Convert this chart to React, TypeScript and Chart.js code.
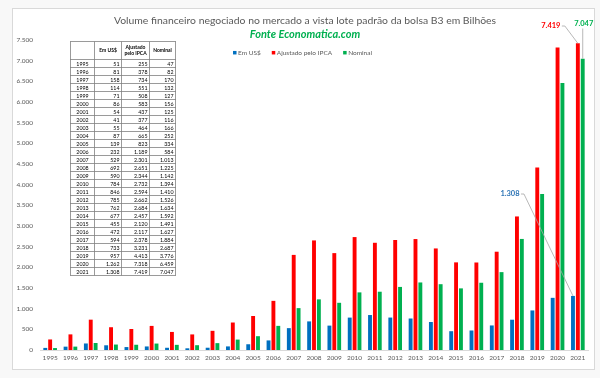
import React, { useEffect, useRef } from "react";
import { Chart, registerables } from "chart.js";

Chart.register(...registerables);

const years = ["1995","1996","1997","1998","1999","2000","2001","2002","2003","2004","2005","2006","2007","2008","2009","2010","2011","2012","2013","2014","2015","2016","2017","2018","2019","2020","2021"];
const emUsd = [51,81,158,114,71,86,54,41,55,87,139,232,529,692,590,784,846,785,762,677,455,472,594,733,957,1262,1308];
const ajustadoIpca = [255,378,734,551,508,583,437,377,464,665,823,1189,2301,2651,2344,2732,2594,2662,2684,2457,2120,2117,2378,3231,4413,7318,7419];
const nominal = [47,82,170,132,127,156,125,116,166,252,334,584,1013,1225,1142,1394,1410,1526,1634,1592,1491,1627,1884,2687,3776,6459,7047];
const seriesNames = ["Em US$", "Ajustado pelo IPCA", "Nominal"];
const seriesColors = ["#0070C0", "#FF0000", "#00B050"];
const yMax = 7500;
const yStep = 500;
const titleText = "Volume financeiro negociado no mercado a vista lote padrão da bolsa B3 em Bilhões";
const subtitleText = "Fonte Economatica.com";
const tableHeaders = ["", "Em US$", "Ajustado\npelo IPCA", "Nominal"];

const fmt = (n: number) => String(n).replace(/\B(?=(\d{3})+(?!\d))/g, ".");
const FONT = "Lato, 'Open Sans', sans-serif";

const decorPlugin = {
  id: "decor",
  beforeDraw(chart: any) {
    const { ctx, width, height } = chart;
    ctx.save();
    ctx.fillStyle = "#f8f8f8";
    ctx.fillRect(0, 0, width, height);
    ctx.fillStyle = "#ffffff";
    ctx.fillRect(12, 8, 582, 361);
    ctx.strokeStyle = "#d9d9d9";
    ctx.lineWidth = 1;
    ctx.strokeRect(12.5, 8.5, 582, 361);
    ctx.restore();
  },
  afterDraw(chart: any) {
    const { ctx } = chart;
    ctx.save();
    // Title
    ctx.textAlign = "center";
    ctx.textBaseline = "middle";
    ctx.fillStyle = "#595959";
    ctx.font = `10.4px ${FONT}`;
    ctx.fillText(titleText, 305, 21);
    ctx.fillStyle = "#00B050";
    ctx.font = `italic bold 11px ${FONT}`;
    ctx.fillText(subtitleText, 305, 34.5);

    // Legend
    ctx.font = `6.5px ${FONT}`;
    const sq = 3.5, gapT = 1.5, gapI = 11;
    const widths = seriesNames.map((s) => sq + gapT + ctx.measureText(s).width);
    const total = widths.reduce((a, b) => a + b, 0) + gapI * (seriesNames.length - 1);
    let lx = 302.5 - total / 2;
    const ly = 52.7;
    ctx.textAlign = "left";
    seriesNames.forEach((s, i) => {
      ctx.fillStyle = seriesColors[i];
      ctx.fillRect(lx, ly - sq / 2, sq, sq);
      ctx.fillStyle = "#595959";
      ctx.fillText(s, lx + sq + gapT, ly);
      lx += widths[i] + gapI;
    });

    // Table
    const cols = [70, 94, 121, 149, 175];
    const top = 41, headH = 18, rowH = 8;
    const bottom = top + headH + rowH * years.length;
    ctx.fillStyle = "#ffffff";
    ctx.fillRect(cols[0], top, cols[4] - cols[0], bottom - top);
    ctx.strokeStyle = "#808080";
    ctx.lineWidth = 0.8;
    ctx.beginPath();
    cols.forEach((c) => { ctx.moveTo(c + 0.5, top + 0.5); ctx.lineTo(c + 0.5, bottom + 0.5); });
    ctx.moveTo(cols[0], top + 0.5); ctx.lineTo(cols[4] + 1, top + 0.5);
    for (let r = 0; r <= years.length; r++) {
      const y = top + headH + r * rowH + 0.5;
      ctx.moveTo(cols[0], y); ctx.lineTo(cols[4] + 1, y);
    }
    ctx.stroke();
    ctx.fillStyle = "#000000";
    ctx.textAlign = "center";
    ctx.font = `bold 5px ${FONT}`;
    tableHeaders.forEach((h, i) => {
      const lines = h.split("\n");
      const cx = (cols[i] + cols[i + 1]) / 2 + 0.5;
      lines.forEach((ln, k) => {
        const cy = top + headH / 2 + (k - (lines.length - 1) / 2) * 6 + 0.5;
        ctx.fillText(ln, cx, cy);
      });
    });
    ctx.font = `5.3px ${FONT}`;
    years.forEach((yr, r) => {
      const cy = top + headH + r * rowH + rowH / 2 + 0.8;
      ctx.textAlign = "center";
      ctx.fillText(yr, (cols[0] + cols[1]) / 2 + 0.5, cy);
      ctx.textAlign = "right";
      ctx.fillText(fmt(emUsd[r]), cols[2] - 1.5, cy);
      ctx.fillText(fmt(ajustadoIpca[r]), cols[3] - 1.5, cy);
      ctx.fillText(fmt(nominal[r]), cols[4] - 1.5, cy);
    });

    // Data labels for last year with leader lines
    const last = years.length - 1;
    const bUsd = chart.getDatasetMeta(0).data[last];
    const bIpca = chart.getDatasetMeta(1).data[last];
    const bNom = chart.getDatasetMeta(2).data[last];
    ctx.font = `bold 7.5px ${FONT}`;
    ctx.textAlign = "center";
    ctx.strokeStyle = "#a6a6a6";
    ctx.lineWidth = 0.8;

    // Ajustado pelo IPCA
    const rx = bIpca.x - 27, ry = 26;
    ctx.fillStyle = "#FF0000";
    ctx.fillText(fmt(ajustadoIpca[last]), rx, ry);
    ctx.beginPath();
    ctx.moveTo(rx + 11, ry);
    ctx.lineTo(rx + 14, ry);
    ctx.lineTo(bIpca.x, bIpca.y);
    ctx.stroke();

    // Nominal
    const gx = bNom.x + 1, gy = 24;
    ctx.fillStyle = "#00B050";
    ctx.fillText(fmt(nominal[last]), gx, gy);
    ctx.beginPath();
    ctx.moveTo(bNom.x, gy + 4.5);
    ctx.lineTo(bNom.x, bNom.y);
    ctx.stroke();

    // Em US$
    const ux = bUsd.x - 63, uy = 194;
    ctx.fillStyle = "#2E75B6";
    ctx.fillText(fmt(emUsd[last]), ux, uy);
    ctx.beginPath();
    ctx.moveTo(ux + 11, uy);
    ctx.lineTo(ux + 14, uy);
    ctx.lineTo(bUsd.x, bUsd.y);
    ctx.stroke();

    ctx.restore();
  },
};

export default function App() {
  const ref = useRef<HTMLCanvasElement | null>(null);
  useEffect(() => {
    document.body.style.margin = "0";
    const canvas = ref.current;
    if (!canvas) return;
    const chart = new Chart(canvas, {
      type: "bar",
      data: {
        labels: years,
        datasets: [
          { label: seriesNames[0], data: emUsd, backgroundColor: seriesColors[0] },
          { label: seriesNames[1], data: ajustadoIpca, backgroundColor: seriesColors[1] },
          { label: seriesNames[2], data: nominal, backgroundColor: seriesColors[2] },
        ],
      },
      options: {
        responsive: false,
        animation: false,
        devicePixelRatio: 1,
        datasets: { bar: { categoryPercentage: 0.72, barPercentage: 0.8 } },
        layout: { padding: { left: 12, right: 12, top: 40, bottom: 8 } },
        plugins: { legend: { display: false }, title: { display: false }, tooltip: { enabled: false } },
        scales: {
          x: {
            grid: { display: false, drawTicks: false },
            border: { display: true, color: "#d9d9d9", width: 1 },
            ticks: { color: "#595959", font: { family: FONT, size: 6.5 }, padding: 4, maxRotation: 0, autoSkip: false },
            afterFit: (s: any) => { s.height = 20; },
          },
          y: {
            min: 0,
            max: yMax,
            grid: { display: false, drawTicks: false },
            border: { display: false },
            ticks: {
              stepSize: yStep,
              color: "#595959",
              font: { family: FONT, size: 6.5 },
              padding: 7,
              callback: (v: any) => fmt(Number(v)),
            },
            afterFit: (s: any) => { s.width = 28; },
          },
        },
      },
      plugins: [decorPlugin],
    } as any);
    return () => chart.destroy();
  }, []);
  return (
    <div style={{ width: 600, height: 378 }}>
      <canvas ref={ref} width={600} height={378} style={{ display: "block" }} />
    </div>
  );
}
